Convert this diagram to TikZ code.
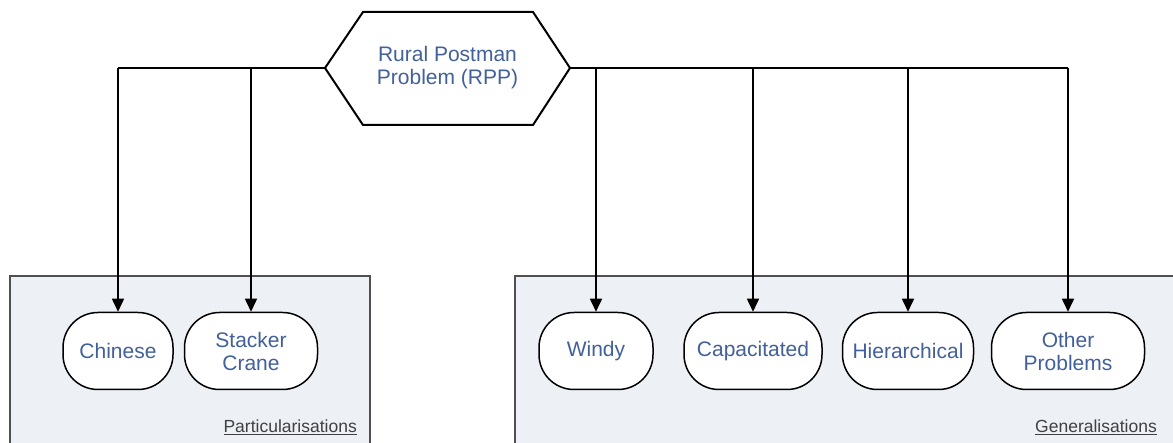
\documentclass[tikz,border=0pt]{standalone}
\usepackage{fontspec}
\setmainfont{Liberation Sans}
\usetikzlibrary{arrows.meta}
\definecolor{labelblue}{HTML}{42609A}
\definecolor{panelfill}{HTML}{EDF0F5}
\definecolor{panelline}{HTML}{505050}
\definecolor{captiongray}{HTML}{404040}
\tikzset{
  problem/.style={draw=black, line width=1.5pt, fill=white, rounded corners=35pt,
    minimum height=77pt, inner sep=0pt, align=center, text=labelblue,
    font=\fontsize{21}{23}\selectfont},
  panel/.style={draw=panelline, line width=1.2pt, fill=panelfill},
  link/.style={line width=1.5pt, -{Triangle[length=13pt,width=12pt]}},
  rail/.style={line width=1.5pt},
  caption/.style={text=captiongray, font=\fontsize{17.5}{19}\selectfont, inner sep=0pt, anchor=base east}
}
\begin{document}
\begin{tikzpicture}[x=1pt,y=-1pt]
  \useasboundingbox (0,0) rectangle (1173,443);
  \clip (0,0) rectangle (1173,443);

  % category panels
  \draw[panel] (10,276) rectangle (370,460);
  \draw[panel] (515,276) rectangle (1190,460);
  \node[caption] (partcap) at (357,433) {\underline{Particularisations}};
  \node[caption] (gencap) at (1157,433) {\underline{Generalisations}};

  % root problem (hexagon)
  \coordinate (hexL) at (325,68);
  \coordinate (hexR) at (570,68);
  \draw[line width=2pt, fill=white, line join=miter]
    (hexL) -- (363,12) -- (533,12) -- (hexR) -- (533,125) -- (363,125) -- cycle;
  \node[align=center, text=labelblue, font=\fontsize{21}{23}\selectfont] (rpp) at (447.5,68)
    {Rural Postman\\Problem (RPP)};

  % variants
  \node[problem, minimum width=110pt] (chinese) at (118,351) {Chinese};
  \node[problem, minimum width=133pt] (stacker) at (251,351) {Stacker\\Crane};
  \node[problem, minimum width=114pt] (windy) at (596,351) {Windy};
  \node[problem, minimum width=138pt] (capac) at (753,351) {Capacitated};
  \node[problem, minimum width=131pt] (hier) at (908,351) {Hierarchical};
  \node[problem, minimum width=153pt] (other) at (1068,351) {Other\\Problems};

  % connectors
  \draw[rail] (hexL) -- (hexL -| chinese);
  \draw[rail] (hexR) -- (hexR -| other);
  \draw[link] (hexL -| chinese) -- (chinese.north);
  \draw[link] (hexL -| stacker) -- (stacker.north);
  \draw[link] (hexR -| windy) -- (windy.north);
  \draw[link] (hexR -| capac) -- (capac.north);
  \draw[link] (hexR -| hier) -- (hier.north);
  \draw[link] (hexR -| other) -- (other.north);
\end{tikzpicture}
\end{document}
